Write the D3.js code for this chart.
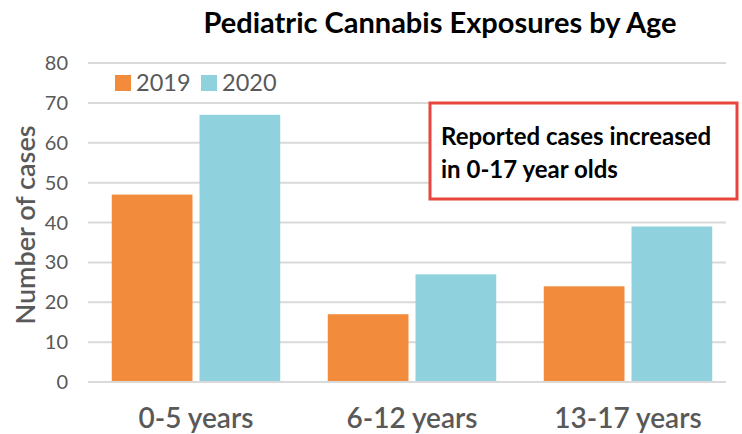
<!DOCTYPE html>
<html>
<head>
<meta charset="utf-8">
<script src="https://cdn.jsdelivr.net/npm/d3@7"></script>
<style>
  body { margin: 0; background: #fff; }
  text { font-family: Lato, "Open Sans", sans-serif; }
</style>
</head>
<body>
<div id="chart"></div>
<script>
// data
var categories = ["0-5 years", "6-12 years", "13-17 years"];
var seriesNames = ["2019", "2020"];
var values2019 = [47, 17, 24];
var values2020 = [67, 27, 39];
var yTicks = [0, 10, 20, 30, 40, 50, 60, 70, 80];
var colors = ["#f38b3c", "#8fd2de"];

var width = 742, height = 434;
var margin = { top: 63, right: 6, bottom: 52, left: 88 };

var svg = d3.select("#chart").append("svg")
  .attr("width", width)
  .attr("height", height);

var x = d3.scaleBand()
  .domain(categories)
  .range([margin.left, width - margin.right])
  .paddingInner(0.22)
  .paddingOuter(0.11);

var xInner = d3.scaleBand()
  .domain(seriesNames)
  .range([0, x.bandwidth()])
  .paddingInner(0.08);

var y = d3.scaleLinear()
  .domain([0, 80])
  .range([height - margin.bottom, margin.top]);

// gridlines
svg.append("g")
  .selectAll("line")
  .data(yTicks)
  .enter().append("line")
  .attr("x1", margin.left)
  .attr("x2", 726)
  .attr("y1", d => y(d))
  .attr("y2", d => y(d))
  .attr("stroke", "#d9d9d9")
  .attr("stroke-width", 2);

// y tick labels
svg.append("g")
  .selectAll("text")
  .data(yTicks)
  .enter().append("text")
  .attr("x", 68)
  .attr("y", d => y(d))
  .attr("dy", "0.35em")
  .attr("text-anchor", "end")
  .attr("font-size", 20)
  .attr("fill", "#595959")
  .text(d => d);

// y title
svg.append("text")
  .attr("transform", "translate(35," + 225 + ") rotate(-90)")
  .attr("text-anchor", "middle")
  .attr("font-size", 27)
  .attr("font-weight", 600)
  .attr("fill", "#595959")
  .text("Number of cases");

// bars
var rows = categories.map((c, i) => ({ cat: c, vals: [values2019[i], values2020[i]] }));

var groups = svg.append("g")
  .selectAll("g")
  .data(rows)
  .enter().append("g")
  .attr("transform", d => "translate(" + x(d.cat) + ",0)");

groups.selectAll("rect")
  .data(d => d.vals.map((v, j) => ({ key: seriesNames[j], v: v, j: j })))
  .enter().append("rect")
  .attr("x", d => xInner(d.key))
  .attr("width", xInner.bandwidth())
  .attr("y", d => y(d.v))
  .attr("height", d => y(0) - y(d.v) - 1)
  .attr("fill", d => colors[d.j]);

// x labels
svg.append("g")
  .selectAll("text")
  .data(categories)
  .enter().append("text")
  .attr("x", d => x(d) + x.bandwidth() / 2)
  .attr("y", 428)
  .attr("text-anchor", "middle")
  .attr("font-size", 28)
  .attr("font-weight", 600)
  .attr("fill", "#595959")
  .text(d => d);

// legend
var legend = svg.append("g").attr("transform", "translate(115,75)");
var legendX = [0, 86];
seriesNames.forEach(function (s, i) {
  legend.append("rect")
    .attr("x", legendX[i])
    .attr("y", 0)
    .attr("width", 16)
    .attr("height", 16)
    .attr("fill", colors[i]);
  legend.append("text")
    .attr("x", legendX[i] + 21)
    .attr("y", 16)
    .attr("font-size", 23.5)
    .attr("fill", "#595959")
    .text(s);
});

// title
svg.append("text")
  .attr("x", 440)
  .attr("y", 33)
  .attr("text-anchor", "middle")
  .attr("font-size", 29)
  .attr("font-weight", "bold")
  .attr("fill", "#000")
  .text("Pediatric Cannabis Exposures by Age");

// annotation
svg.append("rect")
  .attr("x", 430)
  .attr("y", 103)
  .attr("width", 307)
  .attr("height", 96)
  .attr("fill", "#fff")
  .attr("stroke", "#e8463a")
  .attr("stroke-width", 3);

var note = ["Reported cases increased", "in 0-17 year olds"];
svg.append("g")
  .selectAll("text")
  .data(note)
  .enter().append("text")
  .attr("x", 441)
  .attr("y", (d, i) => 145 + i * 33)
  .attr("font-size", 24)
  .attr("font-weight", "bold")
  .attr("fill", "#000")
  .text(d => d);
</script>
</body>
</html>
